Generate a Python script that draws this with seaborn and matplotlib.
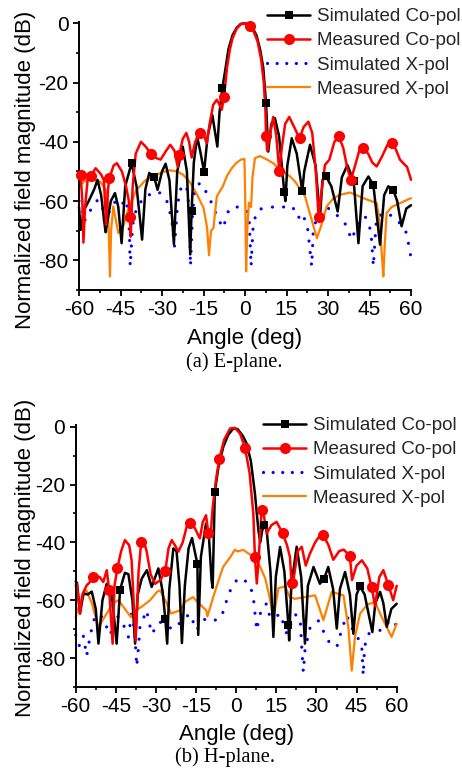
import numpy as np
import pandas as pd
import matplotlib
matplotlib.use("Agg")
import matplotlib.pyplot as plt
from matplotlib.lines import Line2D
from matplotlib.ticker import MultipleLocator
import seaborn as sns

# ---------------- data: (angle in deg, level in dB) ----------------
# E-plane
E_SIM_CO = [(-60, -62), (-59.4, -69.7), (-58.2, -63), (-56.5, -60), (-54.5, -56), (-53.3, -52.8), (-52, -58),
            (-50.4, -70.5), (-48.5, -60), (-47, -57.3), (-45.8, -62), (-44.6, -74.2), (-43.3, -55), (-41, -47.2),
            (-39.2, -55), (-37.2, -73), (-36, -56), (-34.6, -50.5), (-32.8, -51.9), (-31.6, -56.2), (-30, -50),
            (-28.7, -47.4), (-27.3, -53), (-25.7, -74.5), (-24.5, -50), (-22.5, -41.6), (-21, -50), (-19.8, -78),
            (-19.3, -63.3), (-18.5, -47), (-17.3, -38.2), (-16, -44), (-14.8, -50.2), (-13.5, -38), (-11.8, -31),
            (-10, -41.6), (-9.2, -30), (-8.2, -22), (-7, -15), (-6, -8.8), (-4.5, -4), (-3, -1.5), (-1.5, -0.2),
            (0, 0), (1.5, -0.5), (3, -2), (4.2, -4.2), (5.5, -9), (6.6, -15), (7.6, -27), (8.4, -43.3), (9.5, -34),
            (10.8, -32), (12.3, -38), (14.2, -57), (14.6, -60), (15.3, -48), (16.9, -38.8), (18.7, -44),
            (20.7, -56.7), (21.4, -50), (23.5, -41), (25.5, -48), (27.1, -65.7), (28, -53), (29.2, -51.5),
            (31.2, -55), (33.5, -63.5), (35, -52), (37, -47.8), (39.3, -53.3), (41, -74.2), (42.5, -55),
            (44.6, -51.7), (46.4, -54.6), (48.8, -74.7), (50.3, -58), (51.8, -55), (53.6, -56.2), (55, -60),
            (56.6, -68.5), (58.3, -62.5), (60, -61.4)]
E_SIM_CO_MARK = [-41, -32.8, -19.3, -14.8, -8.2, 7.6, 14.2, 20.7, 29.2, 39.3, 46.4, 53.6]

E_MEAS_CO = [(-60, -52), (-59.4, -51.3), (-58.8, -60), (-58.4, -74), (-57.8, -62), (-56.8, -52), (-55.8, -51.7),
             (-54, -48.9), (-52, -51), (-51, -53), (-50.2, -68), (-49.5, -56), (-49, -52.2), (-47.5, -48),
             (-46.3, -47.2), (-44.5, -50), (-43, -55), (-42, -60), (-41.6, -65.2), (-41.3, -72), (-40.6, -55),
             (-39.5, -44), (-37.6, -40), (-36, -41.5), (-34, -44), (-32, -45.5), (-30.5, -46), (-28.5, -43),
             (-27, -41), (-25.5, -43), (-24.3, -48.5), (-23.8, -44.5), (-22.5, -39), (-21.2, -37), (-20.2, -40),
             (-19.3, -45.3), (-18, -40), (-16.3, -37.1), (-14.8, -38), (-13.8, -40.5), (-12.8, -34),
             (-11.5, -27.5), (-10.2, -25.8), (-9.2, -27.5), (-8.4, -29.2), (-7.6, -25), (-6.5, -15), (-5.5, -9),
             (-4.5, -5), (-3, -1.8), (-1.5, -0.3), (0, 0), (1.8, -0.9), (3, -2.5), (4.5, -6), (5.8, -12),
             (6.8, -20), (7.4, -30), (7.6, -38.2), (8, -43), (8.6, -40), (10.2, -31.6), (11.3, -38), (12.4, -50),
             (13.3, -42), (14.5, -34), (16, -31.6), (17.5, -34.5), (19.7, -38.8), (21.2, -35), (22.9, -33.2),
             (24.3, -37), (25.6, -50), (26.6, -65.5), (27.5, -58), (28.9, -47.8), (30.5, -46), (32.3, -40),
             (33.9, -38.2), (35.5, -42), (37, -49), (38.3, -52.8), (39.8, -48), (41.3, -43), (42.8, -42.2),
             (44.5, -44), (46, -47), (47.6, -48.3), (49.5, -45), (51.5, -41), (53, -40.4), (54.5, -42.5),
             (56, -46), (57.2, -47.2), (58.6, -48.5), (60, -52.8)]
E_MEAS_CO_MARK = [-59.4, -55.8, -49, -41.6, -34, -23.8, -16.3, -7.6, 1.8, 7.6, 12.4, 19.7, 26.6, 33.9, 38.3,
                  42.8, 53]

E_SIM_X = [(-60, -60), (-59, -61.8), (-58, -66.9), (-57, -64), (-55.6, -62.9), (-53.2, -59.5), (-51.5, -62),
           (-50.2, -70.8), (-49, -63), (-46.4, -59.5), (-44.5, -61), (-42.8, -59.5), (-41.8, -70), (-41.5, -82),
           (-40.6, -68), (-39.2, -62.3), (-36.2, -58.4), (-33.5, -57.5), (-31.4, -56.7), (-28.4, -59.5),
           (-26.5, -66), (-25.5, -75.3), (-24.5, -63), (-23.6, -56.2), (-21.2, -54.5), (-20.2, -62),
           (-19.7, -82), (-19, -65), (-18.2, -56), (-16.3, -53.9), (-13.3, -57.9), (-11.5, -62), (-9.6, -66.3),
           (-7.8, -69.1), (-6.6, -64.6), (-5.4, -62.3), (-3, -62), (-1.2, -62.1), (0.5, -63), (1.5, -66),
           (2.2, -82), (2.9, -69.1), (4, -64), (6, -62.5), (7.8, -62.3), (10, -62), (12, -61.5), (14, -62),
           (16.3, -61.4), (18, -63), (19.3, -65.7), (20.5, -64), (22.5, -68), (24.1, -82), (24.7, -69.7),
           (26.5, -64), (28.9, -62), (31.5, -63), (34.3, -65.8), (36.5, -68), (38.5, -73), (39.8, -70),
           (41, -66.8), (43.4, -65.1), (45.5, -70), (46.4, -82), (47.2, -70), (47.6, -65.1), (49.5, -64.5),
           (51.2, -64), (53, -65), (54.8, -66.3), (56.5, -68), (58.4, -70.8), (59.9, -78.6)]

E_MEAS_X = [(-60, -56), (-59.6, -54.5), (-57.5, -53), (-55.4, -52.8), (-52.4, -53.4), (-50.5, -56),
            (-49.6, -60), (-49.2, -72), (-48.8, -85.4), (-48.4, -70), (-47.6, -61.8), (-45.8, -70.8), (-45, -69),
            (-44, -68.5), (-42, -62), (-39.2, -56.2), (-36, -53), (-33.2, -51.7), (-30, -50.3), (-27.2, -49.6),
            (-24.5, -50), (-22.4, -51.1), (-20, -53.5), (-17.6, -57.3), (-15, -62.3), (-13.7, -69), (-13, -78.3),
            (-12.3, -70), (-11.4, -69.1), (-10.2, -58.4), (-8, -55), (-6.5, -51.5), (-4.8, -48.9), (-3.2, -47.2),
            (-1.5, -46), (-0.2, -45.8), (0.1, -60), (0.4, -83.7), (0.8, -70), (1.4, -60.5), (2.2, -62),
            (2.7, -52), (3.6, -45.5), (5.4, -44.8), (8, -46), (10.2, -47.2), (12, -48.9), (16.3, -51.7),
            (18.1, -53.4), (21.7, -58.4), (24, -66), (26, -72.5), (28, -67), (29.5, -61.8), (32, -59),
            (34.3, -57.9), (38, -57.1), (42.8, -59), (47.6, -60.7), (48.5, -66), (48.8, -69.7), (49.6, -80),
            (50, -85.4), (50.5, -75), (51.2, -64), (53, -62), (56, -60.7), (60, -59)]

# H-plane
H_SIM_CO = [(-60, -53.5), (-59.5, -54), (-58.4, -64.6), (-57.1, -57.7), (-55.5, -58), (-54, -57), (-52.5, -63),
            (-51.5, -75), (-50, -60), (-48.4, -54.3), (-46.5, -58), (-44.7, -75), (-43.4, -56.3), (-41.6, -50.5),
            (-40.3, -51), (-38.8, -60), (-37.8, -75), (-36.8, -58), (-35.3, -52.5), (-33.4, -49.6),
            (-31.6, -55.4), (-29.1, -49), (-27.5, -57), (-26.5, -66.5), (-25.8, -75), (-25, -56), (-23.5, -42.1),
            (-22.3, -43), (-21.2, -55), (-20.3, -74.8), (-19.2, -55), (-17.8, -42), (-16.5, -38.5),
            (-15.3, -44), (-14.5, -47.4), (-14.2, -72), (-13.2, -45), (-11.3, -33.5), (-10.2, -38),
            (-9.2, -53.1), (-8.8, -55.7), (-8, -22.6), (-6.5, -13), (-4.8, -6.9), (-3, -2.8), (-1.1, -0.6),
            (0.5, -0.8), (2.5, -3.2), (3.9, -5.8), (5.5, -12), (7, -23.1), (8.3, -35.8), (9, -40), (9.7, -36),
            (10.4, -34), (11.4, -35.8), (12.8, -50), (13.9, -72.7), (14.8, -52), (16.4, -41.6), (18, -50),
            (19.5, -68.5), (19.8, -73.9), (20.6, -55), (22.6, -41.5), (24.3, -52), (25.7, -75), (26.8, -55),
            (28.9, -48.5), (31.3, -54.3), (32.9, -52.5), (34.4, -48.5), (36.2, -56), (37.6, -69.8), (38.8, -56),
            (40.7, -50.2), (42.5, -58), (43.8, -71.6), (45, -58), (46.3, -55.2), (48, -58), (50.9, -71),
            (52, -61), (53.8, -57.1), (55, -61), (56.3, -69.2), (58, -63), (60, -61.2)]
H_SIM_CO_MARK = [-43.4, -26.5, -14.5, -8, 10.4, 19.5, 32.9, 46.3]

H_MEAS_CO = [(-60, -55), (-59.6, -54.3), (-58.4, -64.6), (-57.5, -58), (-56, -55), (-54.5, -53.5),
             (-53.4, -52), (-52.7, -51.4), (-51, -52), (-49.7, -53.7), (-48.4, -49.6), (-47.5, -56.3),
             (-46.2, -75), (-45.5, -55), (-44.4, -48.8), (-43, -43), (-41.6, -39.2), (-40, -41), (-39.1, -46.2),
             (-37.6, -74), (-36.5, -50), (-35.5, -39.8), (-34.7, -39), (-33.5, -43), (-32, -51), (-30.3, -54.3),
             (-28.3, -53), (-26.5, -49.8), (-25.3, -42), (-24.1, -39.2), (-22.9, -41), (-21.6, -43.2),
             (-20, -40), (-18.5, -34.5), (-17.3, -33.2), (-15.5, -35), (-13.6, -38.6), (-12.5, -33),
             (-11.3, -30.6), (-10.4, -36.8), (-9.6, -38), (-8.8, -28), (-7.5, -18), (-6.3, -11), (-4.5, -4.5),
             (-2.3, -0.6), (-0.4, -0.4), (1.5, -2.5), (3.3, -7.3), (5, -16), (6.4, -30), (7, -45), (7.7, -54.2),
             (8.3, -47), (9.5, -28.8), (10.4, -31), (11.4, -36.9), (13.2, -34), (15.1, -32.9), (17.4, -36.9),
             (19, -41), (20.1, -45.1), (20.7, -54.2), (21.4, -53), (23, -43), (24.5, -41.5), (26, -48),
             (27.5, -44), (29.5, -40), (31.5, -37.3), (32.6, -37.5), (34.5, -41), (36.3, -46), (38.5, -43),
             (40.2, -42.5), (42.5, -44.7), (43.3, -53), (45, -48), (47, -46.2), (49, -49), (50.6, -55.4),
             (51.9, -62), (53.5, -52), (55, -49.6), (56.9, -54.8), (58.7, -60), (60, -55)]
H_MEAS_CO_MARK = [-53.4, -47.5, -44.4, -35.5, -26.5, -17.3, -10.4, -6.3, 3.3, 7, 9.5, 17.4, 20.7, 32.6,
                  42.5, 50.6, 56.9]

H_SIM_X = [(-60, -72), (-59.6, -74.7), (-58.4, -75.9), (-57.1, -72.4), (-55.9, -79.3), (-55.3, -75.9),
           (-53.4, -67), (-50.9, -64.7), (-48.4, -69.3), (-47, -72), (-45.3, -64.7), (-42.8, -67),
           (-40.3, -72.7), (-39.1, -64.7), (-38, -70), (-37.2, -82.9), (-36.5, -75.9), (-36, -69.3),
           (-33.5, -63.5), (-31.6, -71.6), (-28.5, -67.5), (-26, -69.3), (-22.9, -69.9), (-20.4, -67),
           (-17.3, -64.7), (-14.8, -70.4), (-12.5, -67), (-10.4, -66), (-7.3, -67), (-4.8, -64), (-3.5, -59.8),
           (-1.7, -55.4), (0.8, -52.3), (3, -53), (5.2, -54.9), (6.4, -58.9), (7, -64.3), (7.7, -70.4),
           (8.5, -66), (10, -62), (11.4, -61.2), (12.6, -65.8), (14.5, -66), (16.4, -64.6), (18.9, -71.6),
           (20.5, -68), (22, -64.9), (23.9, -66.1), (24.6, -78), (25.1, -84.8), (25.7, -77.4), (27.6, -69.5),
           (30.7, -67.1), (34.4, -74.1), (37.6, -76.2), (39.5, -70), (41.3, -65.2), (43.2, -69.5),
           (46.9, -75.3), (47.5, -86), (48, -76), (49.4, -71.6), (52.5, -71), (55.6, -69.5), (57.5, -66.6),
           (60, -68.7)]

H_MEAS_X = [(-60, -66), (-59.6, -64), (-58, -60), (-56.5, -57), (-56, -56.6), (-54, -61), (-51.5, -69.3),
            (-48.4, -64.6), (-46, -61), (-44, -60), (-42, -62.5), (-39.4, -65.8), (-37.5, -63.5), (-35, -62),
            (-32.2, -60), (-29.5, -57), (-28.4, -56.6), (-26, -61), (-24.4, -64.6), (-21, -63.5), (-19, -60.5),
            (-16.2, -58.9), (-13.5, -61.5), (-11.2, -63.5), (-10.8, -65.6), (-9.8, -62.7), (-8.6, -58.9),
            (-6.3, -52.3), (-4.9, -48.5), (-2, -44.8), (-0.5, -42.5), (0.5, -43.1), (2.7, -42.6), (4.2, -43.6),
            (7.3, -45.4), (9, -48.5), (10.8, -52.3), (12.5, -59), (13.9, -66.2), (15.8, -55.8), (18.3, -55.2),
            (20.1, -59), (22, -59.5), (25.7, -58.9), (29.5, -58.3), (32.6, -66.9), (35.7, -57.1), (40.1, -58.3),
            (42, -70), (42.5, -76.2), (43.2, -84.3), (44.4, -72.7), (46.3, -64.6), (49, -61.5), (51.9, -60.6),
            (54.4, -65.8), (58.1, -72.7), (60, -68.1)]

LABELS = ["Simulated Co-pol", "Measured Co-pol", "Simulated X-pol", "Measured X-pol"]
X_TICKS = [-60, -45, -30, -15, 0, 15, 30, 45, 60]
Y_TICKS = [0, -20, -40, -60, -80]
Y_AXIS_LABEL = "Normalized field magnitude (dB)"
X_AXIS_LABEL = "Angle (deg)"
CAPTIONS = ["(a) E-plane.", "(b) H-plane."]

# ---------------- style ----------------
sns.set_theme(style="ticks")
plt.rcParams["font.family"] = ["Liberation Sans", "DejaVu Sans"]
plt.rcParams["axes.linewidth"] = 1.4

BLACK, RED, BLUE, ORANGE = "#000000", "#FF0000", "#0000FF", "#FF8000"
W, H = 462, 770

fig = plt.figure(figsize=(W / 100, H / 100), dpi=100)


def frame(pts):
    return pd.DataFrame(pts, columns=["angle", "db"])


def curve(ax, pts, color, lw, **kw):
    sns.lineplot(data=frame(pts), x="angle", y="db", ax=ax, estimator=None, sort=False,
                 color=color, linewidth=lw, legend=False, **kw)
    return ax.lines[-1]


def markers(ax, pts, angles, color, marker, size):
    df = frame(pts)
    yy = np.interp(angles, df["angle"], df["db"])
    mk = pd.DataFrame({"angle": angles, "db": yy})
    ax.plot(mk["angle"], mk["db"], linestyle="none", marker=marker, markersize=size,
            color=color, markeredgewidth=0, zorder=6, clip_on=False)


def panel(rect_px, sim_co, sim_mk, meas_co, meas_mk, sim_x, meas_x, leg_px, xlab_base, cap_base, caption,
          ylab_center):
    x0, x1, ytop, ybot = rect_px
    ax = fig.add_axes([x0 / W, 1 - ybot / H, (x1 - x0) / W, (ybot - ytop) / H])
    bl = curve(ax, sim_x, BLUE, 2.3)
    bl.set_linestyle((0, (0.01, 3.6)))
    bl.set_dash_capstyle("round")
    curve(ax, meas_x, ORANGE, 1.6)
    curve(ax, sim_co, BLACK, 1.8)
    curve(ax, meas_co, RED, 1.8)
    markers(ax, sim_co, sim_mk, BLACK, "s", 6.3)
    markers(ax, meas_co, meas_mk, RED, "o", 8)
    for ln in ax.lines:
        ln.set_clip_on(False)

    ax.set_xlim(-60, 60)
    ax.set_ylim(-90, 0.5)
    ax.set_xticks(X_TICKS)
    ax.set_xticklabels([str(t) for t in X_TICKS])
    ax.set_yticks(Y_TICKS)
    ax.set_yticklabels([str(t) for t in Y_TICKS])
    ax.xaxis.set_minor_locator(MultipleLocator(7.5))
    ax.yaxis.set_minor_locator(MultipleLocator(10))
    ax.tick_params(which="major", direction="out", length=4.5, width=1.3, labelsize=15, pad=3,
                   color="black", labelcolor="black")
    ax.tick_params(which="minor", direction="out", length=2.5, width=1.2, color="black")
    sns.despine(ax=ax)
    for s in ("left", "bottom"):
        ax.spines[s].set_color("black")
        ax.spines[s].set_linewidth(1.4)
    ax.set_facecolor("white")

    ax.set_ylabel(Y_AXIS_LABEL, fontsize=16, color="black")
    ax.yaxis.set_label_coords((36.5 - x0) / (x1 - x0), (ybot - ylab_center) / (ybot - ytop))
    ax.set_xlabel(X_AXIS_LABEL, fontsize=16, color="black", va="baseline")
    ax.xaxis.set_label_coords(0.5, (ybot - xlab_base) / (ybot - ytop))

    fig.text(((x0 + x1) / 2 - 11) / W, 1 - cap_base / H, caption, ha="center", va="baseline",
             fontsize=14.8, family=["Liberation Serif", "DejaVu Serif"], color="black")

    handles = [
        Line2D([], [], color=BLACK, lw=1.8, marker="s", markersize=6.3, markeredgewidth=0),
        Line2D([], [], color=RED, lw=1.8, marker="o", markersize=8, markeredgewidth=0),
        Line2D([], [], color=BLUE, lw=2.3, linestyle=(0, (0.01, 3.0)), dash_capstyle="round"),
        Line2D([], [], color=ORANGE, lw=1.6),
    ]
    ax.legend(handles, LABELS, loc="upper left", bbox_to_anchor=(leg_px[0] / W, 1 - leg_px[1] / H),
              bbox_transform=fig.transFigure, frameon=False, fontsize=13.5, borderpad=0, borderaxespad=0,
              handlelength=2.3, handletextpad=0.35, labelspacing=0.38)
    return ax


panel((79, 411, 21.8, 290), E_SIM_CO, E_SIM_CO_MARK, E_MEAS_CO, E_MEAS_CO_MARK, E_SIM_X, E_MEAS_X,
      (267, 8), 344, 367, CAPTIONS[0], 170)
panel((75.7, 396.7, 425.3, 687), H_SIM_CO, H_SIM_CO_MARK, H_MEAS_CO, H_MEAS_CO_MARK, H_SIM_X, H_MEAS_X,
      (263, 417), 740, 762, CAPTIONS[1], 558)

fig.savefig("out.png", dpi=100, facecolor="white")
